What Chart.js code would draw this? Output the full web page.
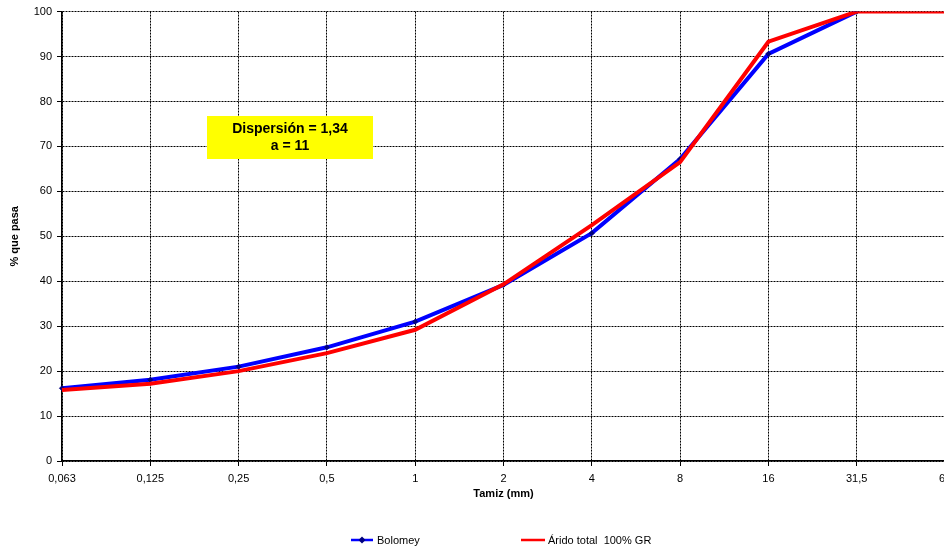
<!DOCTYPE html>
<html>
<head>
<meta charset="utf-8">
<script src="https://cdn.jsdelivr.net/npm/chart.js@4/dist/chart.umd.min.js"></script>
<style>
html,body{margin:0;padding:0;background:#fff;overflow:hidden;}
#wrap{position:absolute;left:0;top:0;width:1000px;height:549px;}
</style>
</head>
<body>
<div id="wrap"><canvas id="c" width="1000" height="549"></canvas></div>
<script>
const sieves = ['0,063','0,125','0,25','0,5','1','2','4','8','16','31,5','63'];
const bolomey = [16.2, 18.1, 21.0, 25.3, 31.0, 39.2, 50.7, 67.2, 90.6, 100, null];
const aridoTotal = [15.8, 17.2, 20.0, 24.0, 29.2, 39.3, 52.5, 66.5, 93.3, 100, 100];
const yTicks = [0,10,20,30,40,50,60,70,80,90,100];
const seriesNames = ['Bolomey', 'Árido total  100% GR'];
const noteLines = ['Dispersión = 1,34', 'a = 11'];

const FONT = '"Liberation Sans", Arial, sans-serif';

const extras = {
  id: 'extras',
  afterDraw(chart) {
    const ctx = chart.ctx;
    ctx.save();
    // annotation box
    ctx.fillStyle = '#FFFF00';
    ctx.fillRect(207, 116, 166, 43);
    ctx.fillStyle = '#000';
    ctx.font = 'bold 14px ' + FONT;
    ctx.textAlign = 'center';
    ctx.textBaseline = 'middle';
    ctx.fillText(noteLines[0], 290, 129);
    ctx.fillText(noteLines[1], 290, 146);
    // legend
    const ly = 540;
    ctx.lineWidth = 2.5;
    ctx.strokeStyle = '#0000FF';
    ctx.beginPath(); ctx.moveTo(351, ly); ctx.lineTo(373, ly); ctx.stroke();
    ctx.fillStyle = '#000080';
    ctx.beginPath();
    ctx.moveTo(362, ly - 3.5); ctx.lineTo(365.5, ly); ctx.lineTo(362, ly + 3.5); ctx.lineTo(358.5, ly);
    ctx.closePath(); ctx.fill();
    ctx.strokeStyle = '#FF0000';
    ctx.beginPath(); ctx.moveTo(521, ly); ctx.lineTo(545, ly); ctx.stroke();
    ctx.fillStyle = '#000';
    ctx.font = '11px ' + FONT;
    ctx.textAlign = 'left';
    ctx.fillText(seriesNames[0], 377, ly + 1);
    ctx.fillText(seriesNames[1], 548, ly + 1);
    // the original picture is cut off at its right edge
    ctx.fillStyle = '#fff';
    ctx.fillRect(944, 0, chart.width - 944, chart.height);
    ctx.restore();
  }
};

new Chart(document.getElementById('c'), {
  type: 'line',
  data: {
    labels: sieves,
    datasets: [
      {
        label: seriesNames[0],
        data: bolomey,
        borderColor: '#0000FF',
        backgroundColor: '#000080',
        borderWidth: 4,
        pointStyle: 'rectRot',
        pointRadius: 2.5,
        pointBackgroundColor: '#000080',
        pointBorderColor: '#000080',
        pointBorderWidth: 1,
        tension: 0,
        order: 2
      },
      {
        label: seriesNames[1],
        data: aridoTotal,
        borderColor: '#FF0000',
        backgroundColor: '#FF0000',
        borderWidth: 4,
        pointRadius: 0,
        tension: 0,
        order: 1
      }
    ]
  },
  options: {
    responsive: false,
    animation: false,
    layout: { padding: { left: 0, top: 10, right: 55, bottom: 0 } },
    plugins: { legend: { display: false }, tooltip: { enabled: false } },
    scales: {
      x: {
        type: 'category',
        offset: false,
        grid: {
          color: '#000',
          lineWidth: 1,
          tickLength: 5,
          tickBorderDash: [],
          tickColor: '#000',
          drawOnChartArea: true
        },
        border: { display: true, color: '#000', width: 1.5, dash: [2, 1] },
        ticks: { color: '#000', font: { family: FONT, size: 11 }, padding: 6, maxRotation: 0, autoSkip: false },
        title: { display: true, text: 'Tamiz (mm)', color: '#000', font: { family: FONT, size: 11, weight: 'bold' }, padding: { top: 0, bottom: 48 } },
        afterFit(s) { s.height = 88; }
      },
      y: {
        min: 0,
        max: 100,
        afterBuildTicks(s) { s.ticks = yTicks.map(v => ({ value: v })); },
        grid: {
          color: '#000',
          lineWidth: 1,
          tickLength: 5,
          tickBorderDash: [],
          tickColor: '#000'
        },
        border: { display: true, color: '#000', width: 1.5, dash: [2, 1] },
        ticks: { color: '#000', font: { family: FONT, size: 11 }, padding: 5 },
        title: { display: true, text: '% que pasa', color: '#000', font: { family: FONT, size: 11, weight: 'bold' }, padding: { top: 8, bottom: 0 } },
        afterFit(s) { s.width = 62; }
      }
    }
  },
  plugins: [extras]
});
</script>
</body>
</html>
